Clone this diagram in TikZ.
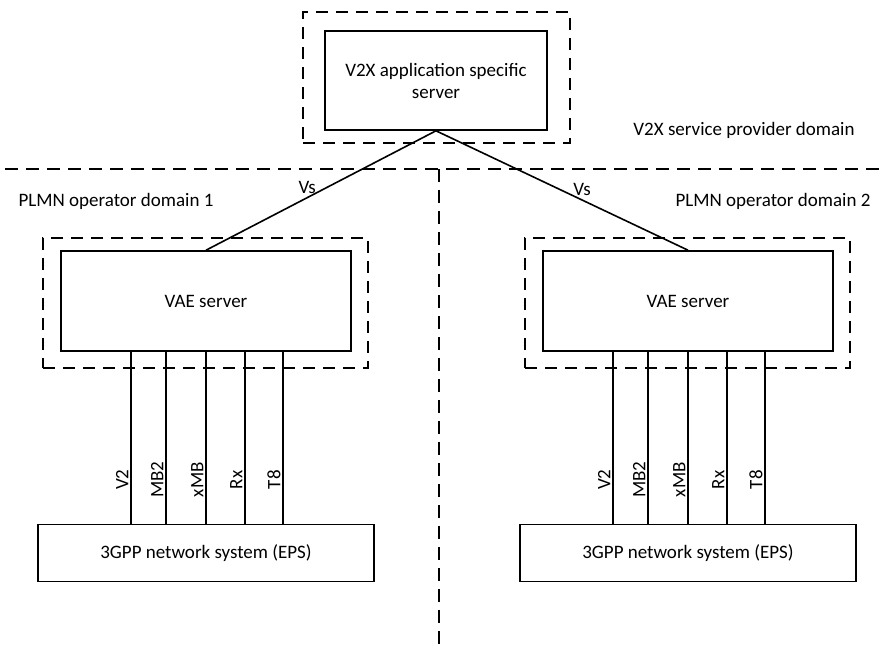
\documentclass[tikz,border=0pt]{standalone}
\usepackage{fontspec}
\setmainfont{Carlito}
\usetikzlibrary{positioning,calc}

\begin{document}
\begin{tikzpicture}[x=1pt, y=-1pt, line width=1.6pt, node distance=172pt,
    font=\fontsize{19}{22}\selectfont,
    box/.style={draw, rectangle, align=center, minimum width=290pt, minimum height=100pt},
    sysbox/.style={draw, rectangle, minimum width=336pt, minimum height=57pt},
    dombox/.style={draw, rectangle, dash pattern=on 12pt off 8pt, minimum width=325pt, minimum height=130pt},
    border/.style={dash pattern=on 13pt off 8pt},
    iface/.style={rotate=90, anchor=south, inner sep=2pt}]
    \useasboundingbox (0,0) rectangle (881,648);

    % application server and its domain
    \node[dombox, minimum width=267pt, minimum height=131pt] (appdom) at (436.5,77.5) {};
    \node[box, minimum width=222pt, minimum height=99pt]     (app)    at (436,80.5)   {V2X application specific\\server};

    % the two operator domains
    \node[dombox]  (vdom1) at (205.5,303) {};
    \node[dombox]  (vdom2) at (687.5,303) {};
    \node[box]     (vae1)  at (206,301)   {VAE server};
    \node[box]     (vae2)  at (688,301)   {VAE server};
    \node[sysbox]  (eps1)  [below=172pt of vae1] {3GPP network system (EPS)};
    \node[sysbox]  (eps2)  [below=172pt of vae2] {3GPP network system (EPS)};

    \node (spdom)  at (744,130) {V2X service provider domain};
    \node (opdom1) at (116,201) {PLMN operator domain 1};
    \node (opdom2) at (773,201) {PLMN operator domain 2};

    % domain borders
    \coordinate (hleft)  at (5,169);
    \coordinate (hright) at (881,169);
    \coordinate (vtop)   at (439,169);
    \coordinate (vbot)   at (439,648);
    \draw[border] (hleft) -- (hright);
    \draw[border] (vtop) -- (vbot);

    \path (app.south) edge node[pos=0.56, above] {Vs} (vae1.north)
                      edge node[pos=0.58, above] {Vs} (vae2.north);

    \foreach \s in {1,2}
      \foreach \dx/\lbl in {71/V2, 106/MB2, 146/xMB, 185/Rx, 223/T8} {
        \coordinate (itop) at ($(vae\s.south west)+(\dx,0)$);
        \draw (itop) -- node[iface, pos=0.744] {\lbl} (itop |- eps\s.north);
      }
\end{tikzpicture}
\end{document}
